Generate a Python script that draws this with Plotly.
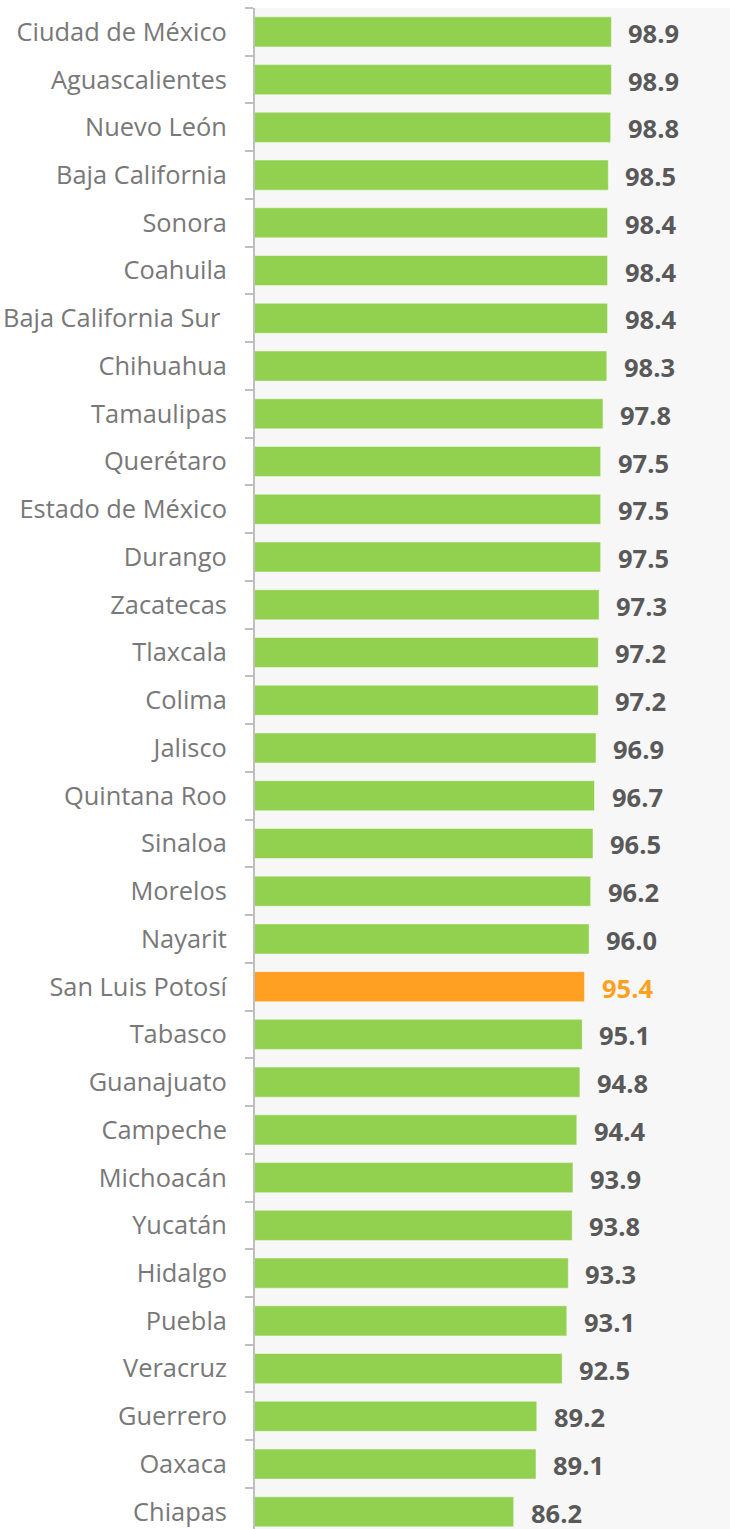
import plotly.graph_objects as go

states = ["Ciudad de México", "Aguascalientes", "Nuevo León", "Baja California", "Sonora",
          "Coahuila", "Baja California Sur\u00a0", "Chihuahua", "Tamaulipas", "Querétaro",
          "Estado de México", "Durango", "Zacatecas", "Tlaxcala", "Colima", "Jalisco",
          "Quintana Roo", "Sinaloa", "Morelos", "Nayarit", "San Luis Potosí", "Tabasco",
          "Guanajuato", "Campeche", "Michoacán", "Yucatán", "Hidalgo", "Puebla", "Veracruz",
          "Guerrero", "Oaxaca", "Chiapas"]
values = [98.9, 98.9, 98.8, 98.5, 98.4, 98.4, 98.4, 98.3, 97.8, 97.5, 97.5, 97.5, 97.3, 97.2,
          97.2, 96.9, 96.7, 96.5, 96.2, 96.0, 95.4, 95.1, 94.8, 94.4, 93.9, 93.8, 93.3, 93.1,
          92.5, 89.2, 89.1, 86.2]
highlight = "San Luis Potosí"

GREEN = "#92D050"
ORANGE = "#FFA022"
bar_colors = [ORANGE if s == highlight else GREEN for s in states]
label_colors = ["#FF9F1E" if s == highlight else "#595959" for s in states]

fig = go.Figure()
fig.add_trace(go.Bar(
    x=values, y=states, orientation="h",
    marker=dict(color=bar_colors, line=dict(color="rgba(255,255,255,0.45)", width=1)),
    width=0.63, hoverinfo="x+y",
))

for s, v, c in zip(states, values, label_colors):
    fig.add_annotation(x=v, y=s, text=f"<b>{v:.1f}</b>", showarrow=False,
                       xanchor="left", yanchor="middle", xshift=15, yshift=-1,
                       font=dict(family="Open Sans", size=25.5, color=c))

fig.update_layout(
    width=730, height=1529,
    margin=dict(l=255, r=0, t=8, b=0),
    paper_bgcolor="white", plot_bgcolor="#F7F7F7",
    showlegend=False,
    xaxis=dict(range=[52.6, 114.3], visible=False, showgrid=False, zeroline=False),
    yaxis=dict(
        type="category", categoryorder="array", categoryarray=states,
        range=[31.36, -0.5],
        showline=True, linecolor="#BFBFBF", linewidth=2,
        ticks="outside", tickson="boundaries", ticklen=8, tickcolor="#BFBFBF", tickwidth=2,
        ticklabelstandoff=21,
        tickfont=dict(family="Open Sans", size=25.4, color="#787878"),
        showgrid=False, zeroline=False,
    ),
)

fig.write_html(
    "out.html",
    config={"displayModeBar": False},
    post_script="document.body.style.margin='0';document.body.style.overflow='hidden';",
)
